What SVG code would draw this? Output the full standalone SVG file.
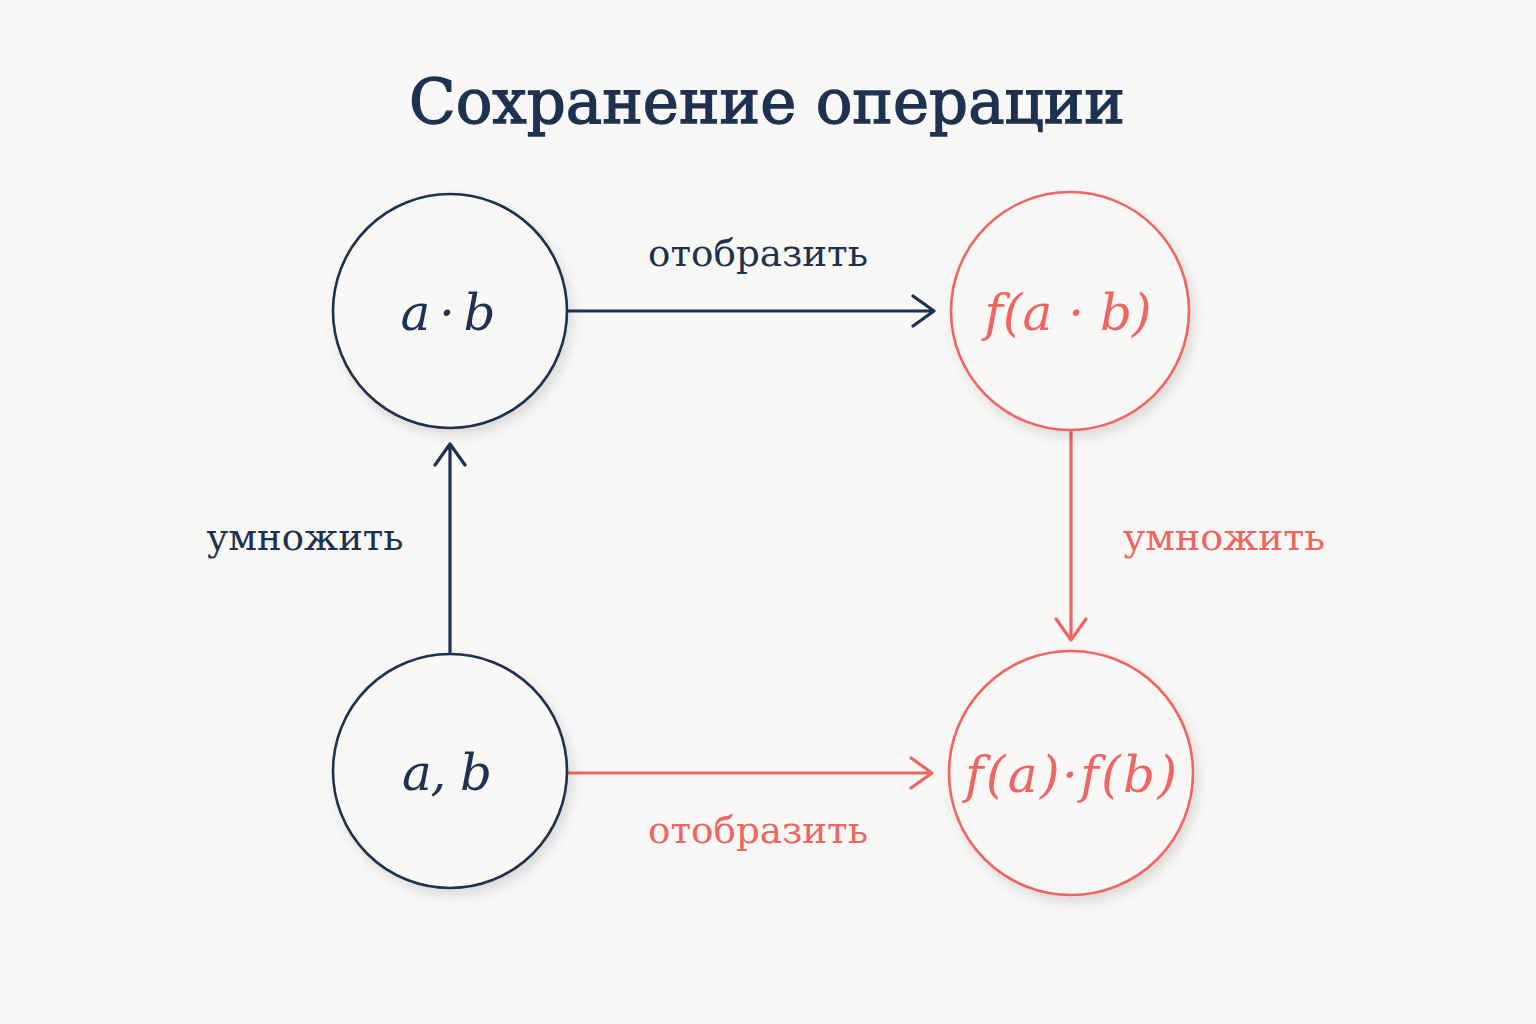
<svg xmlns="http://www.w3.org/2000/svg" width="1536" height="1024" viewBox="0 0 1536 1024">
<style>
.navy{stroke:#1d3150;}
.coral{stroke:#ef6561;}
.node{fill:#f9f8f6;stroke-width:2.6;filter:url(#sh);}
.edge{fill:none;stroke-width:3.2;stroke-linecap:round;stroke-linejoin:round;}
.lbl{font-family:"DejaVu Serif","Liberation Serif",serif;font-size:38px;text-anchor:middle;}
.math{font-family:"DejaVu Serif","Liberation Serif",serif;font-style:italic;font-size:50px;text-anchor:middle;}
.tn{fill:#1d3150;}
.tc{fill:#ef6561;}
</style>
<defs>
<filter id="sh" x="-20%" y="-20%" width="150%" height="150%">
<feDropShadow dx="4" dy="6" stdDeviation="6" flood-color="#000" flood-opacity="0.12"/>
</filter>
</defs>
<rect width="1536" height="1024" fill="#f9f8f6"/>
<text x="767" y="123" font-family="DejaVu Serif,Liberation Serif,serif" font-size="62" fill="#1d3150" stroke="#1d3150" stroke-width="1.4" text-anchor="middle" textLength="716" lengthAdjust="spacingAndGlyphs">Сохранение операции</text>
<g id="connectors">
<g id="e1"><path class="edge navy" d="M568 311 H933 M913 296 L934 311 L913 326"/></g>
<g id="e2"><path class="edge navy" d="M450 652 V445 M435 465 L450 444 L465 465"/></g>
<g id="e3"><path class="edge coral" d="M1071 431 V639 M1056 619 L1071 640 L1086 619"/></g>
<g id="e4"><path class="edge coral" d="M568 773 H931 M911 758 L932 773 L911 788"/></g>
<text class="lbl tn" x="758" y="266" textLength="220" lengthAdjust="spacingAndGlyphs">отобразить</text>
<text class="lbl tn" x="305" y="550" textLength="197" lengthAdjust="spacingAndGlyphs">умножить</text>
<text class="lbl tc" x="1224" y="550" textLength="202" lengthAdjust="spacingAndGlyphs">умножить</text>
<text class="lbl tc" x="758" y="843" textLength="220" lengthAdjust="spacingAndGlyphs">отобразить</text>
</g>
<g id="n1"><circle class="node navy" cx="450" cy="311" r="117"/><text class="math tn" x="448" y="330" textLength="95">a · b</text></g>
<g id="n2"><circle class="node coral" cx="1070" cy="311" r="119"/><text class="math tc" x="1068" y="330" textLength="167">f(a · b)</text></g>
<g id="n3"><circle class="node navy" cx="450" cy="771" r="117"/><text class="math tn" x="447" y="790" textLength="90">a, b</text></g>
<g id="n4"><circle class="node coral" cx="1071" cy="773" r="122"/><text class="math tc" x="1071" y="792" textLength="212">f(a)·f(b)</text></g>
</svg>
